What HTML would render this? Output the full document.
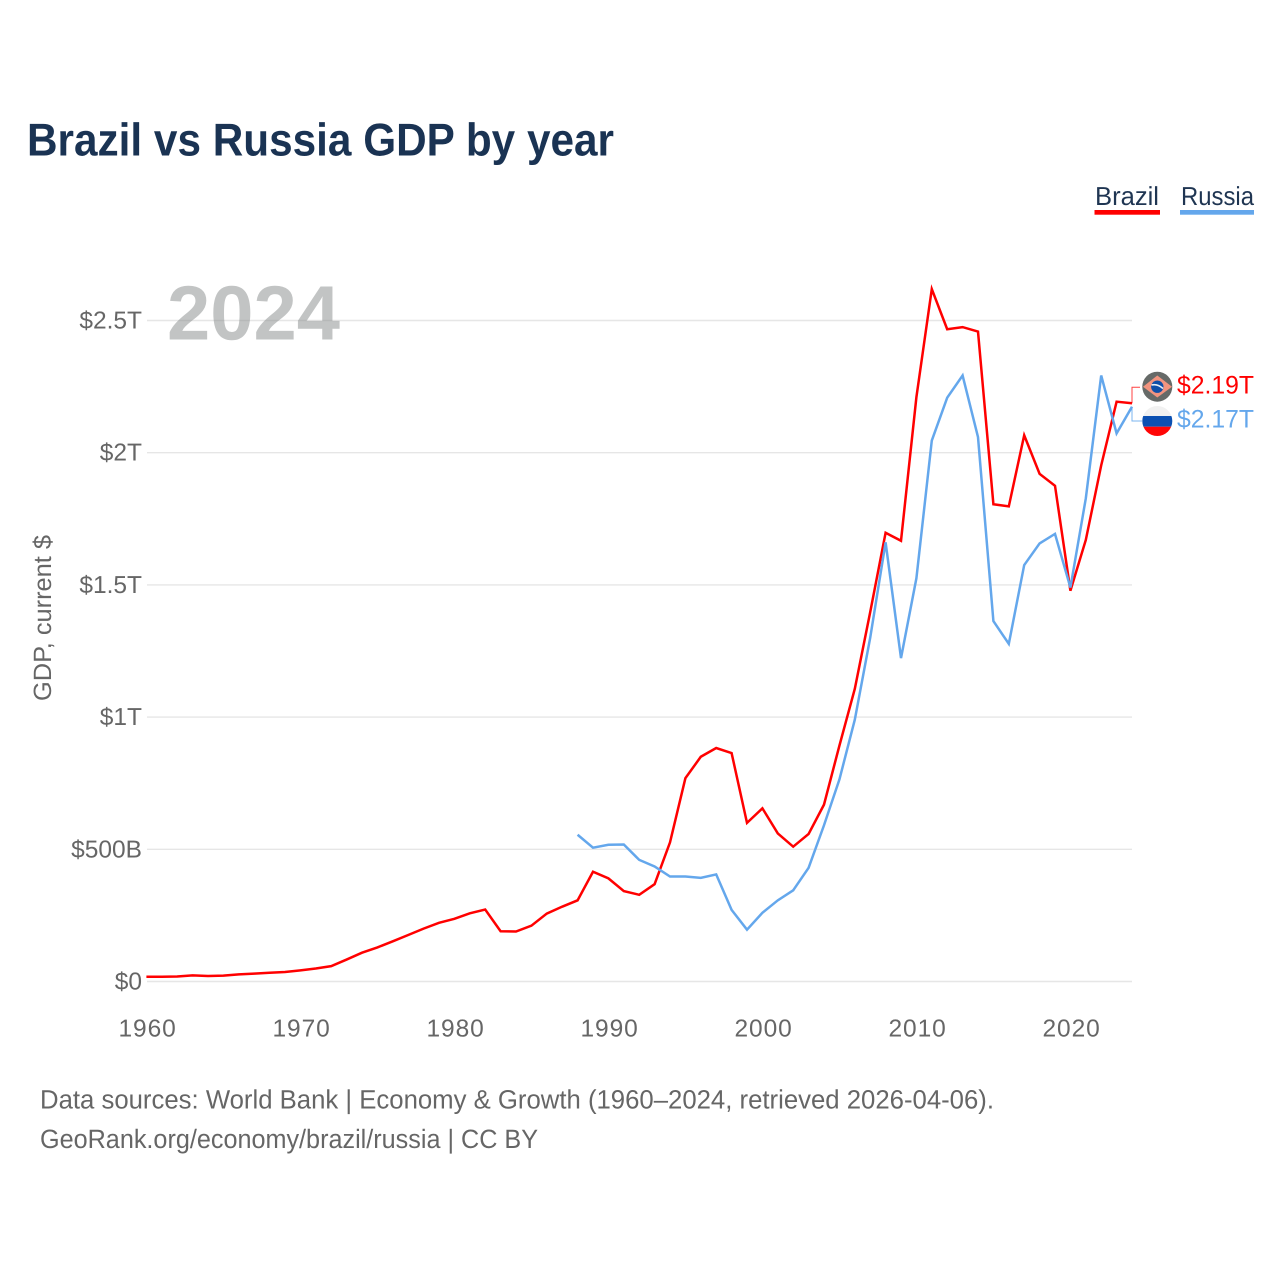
<!DOCTYPE html>
<html lang="en">
<head>
<meta charset="utf-8">
<title>Brazil vs Russia GDP by year</title>
<style>
html,body{margin:0;padding:0;background:#fff;width:1280px;height:1280px;overflow:hidden}
svg{display:block;font-family:"Liberation Sans",sans-serif;text-rendering:geometricPrecision}
</style>
</head>
<body>
<svg id="chart" width="1280" height="1280" viewBox="0 0 1280 1280" xmlns="http://www.w3.org/2000/svg">
  <defs>
    <clipPath id="russia-clip"><circle cx="1157.3" cy="421" r="15"/></clipPath>
    <clipPath id="brazil-clip"><circle cx="1157.3" cy="386.7" r="15"/></clipPath>
  </defs>
  <text x="27" y="155.5" font-size="46" font-weight="700" fill="#1a3353" textLength="587" lengthAdjust="spacingAndGlyphs">Brazil vs Russia GDP by year</text>

  <text x="1095" y="205" font-size="26" fill="#1f3552" textLength="64" lengthAdjust="spacingAndGlyphs">Brazil</text>
  <rect x="1094.5" y="210" width="65.5" height="4.7" fill="#ff0000"/>
  <text x="1181" y="205" font-size="26" fill="#1f3552" textLength="73" lengthAdjust="spacingAndGlyphs">Russia</text>
  <rect x="1180" y="210" width="74" height="4.7" fill="#64a7ec"/>

  <text transform="translate(51,701) rotate(-90)" font-size="25" fill="#666" textLength="166" lengthAdjust="spacingAndGlyphs">GDP, current $</text>

  <g id="grid"></g>
  <g id="y-ticks"></g>
  <g id="x-ticks"></g>

  <text x="167" y="339.5" font-size="77" font-weight="700" fill="#858a89" fill-opacity="0.5" textLength="173" lengthAdjust="spacingAndGlyphs">2024</text>

  <g id="series"></g>
  <g id="connectors"></g>

  <g clip-path="url(#brazil-clip)">
    <rect x="1142" y="371" width="31" height="31" fill="#666a68"/>
    <polygon points="1157.3,375.5 1172,386.7 1157.3,397.5 1143,386.7" fill="#f2947f"/>
    <circle cx="1157.3" cy="386.7" r="6.2" fill="#0f4fa8"/>
    <path d="M1151.5 385 Q1157.5 383.5 1163 388.5" stroke="#e8eef5" stroke-width="1.6" fill="none"/>
  </g>
  <g clip-path="url(#russia-clip)">
    <rect x="1142" y="405" width="31" height="11" fill="#f1f1f1"/>
    <rect x="1142" y="416" width="31" height="10.7" fill="#0b50b2"/>
    <rect x="1142" y="426.7" width="31" height="10" fill="#ff0606"/>
  </g>

  <text x="1177" y="393.5" font-size="25.5" fill="#ff0000" textLength="77" lengthAdjust="spacingAndGlyphs">$2.19T</text>
  <text x="1177" y="427.5" font-size="25.5" fill="#64a7ec" textLength="77" lengthAdjust="spacingAndGlyphs">$2.17T</text>

  <text x="40" y="1108.5" font-size="26.5" fill="#666" textLength="954" lengthAdjust="spacingAndGlyphs">Data sources: World Bank | Economy &amp; Growth (1960–2024, retrieved 2026-04-06).</text>
  <text x="40" y="1148" font-size="26.5" fill="#666" textLength="498" lengthAdjust="spacingAndGlyphs">GeoRank.org/economy/brazil/russia | CC BY</text>
</svg>
<script>
const years = [1960,1961,1962,1963,1964,1965,1966,1967,1968,1969,1970,1971,1972,1973,1974,1975,1976,1977,1978,1979,1980,1981,1982,1983,1984,1985,1986,1987,1988,1989,1990,1991,1992,1993,1994,1995,1996,1997,1998,1999,2000,2001,2002,2003,2004,2005,2006,2007,2008,2009,2010,2011,2012,2013,2014,2015,2016,2017,2018,2019,2020,2021,2022,2023,2024];
// GDP in billions of current US$
const brazilGdp = [18,18,19,23,21,22,27,30,33,36,42,49,58,83,109,129,152,176,200,222,237,258,272,190,189,211,257,283,307,415,390,342,328,368,526,769,850,883,864,600,655,560,510,558,669,892,1107,1397,1697,1667,2210,2619,2467,2475,2458,1805,1797,2066,1920,1875,1478,1670,1952,2193,2187];
const russiaGdp = [null,null,null,null,null,null,null,null,null,null,null,null,null,null,null,null,null,null,null,null,null,null,null,null,null,null,null,null,555,506,517,518,460,435,397,397,392,405,271,196,260,307,345,430,591,764,990,1300,1661,1223,1525,2046,2208,2292,2059,1363,1277,1575,1657,1693,1490,1827,2292,2073,2174];
const yTickValues = [0,500,1000,1500,2000,2500];
const yTickLabels = ["$0","$500B","$1T","$1.5T","$2T","$2.5T"];
const xTickValues = [1960,1970,1980,1990,2000,2010,2020];

const SVG_NS = "http://www.w3.org/2000/svg";
function xScale(year){ return 146.4 + (year - 1960) * (1132 - 146.4) / (2024 - 1960); }
function yScale(v){ return 981.5 - v * (981.5 - 320.5) / 2500; }

const gridGroup = document.getElementById("grid");
const yTickGroup = document.getElementById("y-ticks");
const xTickGroup = document.getElementById("x-ticks");
const seriesGroup = document.getElementById("series");
const connectorGroup = document.getElementById("connectors");

yTickValues.forEach(function(v, i){
  const line = document.createElementNS(SVG_NS, "line");
  
  
  line.setAttribute("x1", 147);
  line.setAttribute("x2", 1132);
  line.setAttribute("y1", yScale(v));
  line.setAttribute("y2", yScale(v));
  line.setAttribute("stroke", "#e6e6e6");
  line.setAttribute("stroke-width", "1.4");
  gridGroup.appendChild(line);

  const label = document.createElementNS(SVG_NS, "text");
  
  
  label.setAttribute("x", 142);
  label.setAttribute("y", yScale(v) + 8);
  label.setAttribute("text-anchor", "end");
  label.setAttribute("font-size", "24.5");
  label.setAttribute("fill", "#666");
  label.textContent = yTickLabels[i];
  yTickGroup.appendChild(label);
});

xTickValues.forEach(function(year){
  const label = document.createElementNS(SVG_NS, "text");
  
  
  label.setAttribute("x", xScale(year) + 1.2);
  label.setAttribute("y", 1036.5);
  label.setAttribute("text-anchor", "middle");
  label.setAttribute("font-size", "24.5");
  label.setAttribute("letter-spacing", "0.9");
  label.setAttribute("fill", "#666");
  label.textContent = String(year);
  xTickGroup.appendChild(label);
});

function buildPath(values){
  let d = "";
  values.forEach(function(v, i){
    if (v === null) return;
    d += (d === "" ? "M" : "L") + xScale(years[i]).toFixed(2) + " " + yScale(v).toFixed(2);
  });
  return d;
}

const brazilLine = document.createElementNS(SVG_NS, "path");


brazilLine.setAttribute("d", buildPath(brazilGdp));
brazilLine.setAttribute("fill", "none");
brazilLine.setAttribute("stroke", "#ff0000");
brazilLine.setAttribute("stroke-width", "2.5");
brazilLine.setAttribute("stroke-linejoin", "miter");
seriesGroup.appendChild(brazilLine);

const russiaLine = document.createElementNS(SVG_NS, "path");


russiaLine.setAttribute("d", buildPath(russiaGdp));
russiaLine.setAttribute("fill", "none");
russiaLine.setAttribute("stroke", "#64a7ec");
russiaLine.setAttribute("stroke-width", "2.5");
russiaLine.setAttribute("stroke-linejoin", "miter");
seriesGroup.appendChild(russiaLine);

const lastX = xScale(years[years.length - 1]);

const brazilConnector = document.createElementNS(SVG_NS, "path");


brazilConnector.setAttribute("d", "M" + lastX + " " + yScale(brazilGdp[brazilGdp.length - 1]) + "V387.3H1140");
brazilConnector.setAttribute("fill", "none");
brazilConnector.setAttribute("stroke", "#ff0000");
brazilConnector.setAttribute("stroke-opacity", "0.75");
brazilConnector.setAttribute("stroke-width", "1");
connectorGroup.appendChild(brazilConnector);

const russiaConnector = document.createElementNS(SVG_NS, "path");


russiaConnector.setAttribute("d", "M" + lastX + " " + yScale(russiaGdp[russiaGdp.length - 1]) + "V421H1142");
russiaConnector.setAttribute("fill", "none");
russiaConnector.setAttribute("stroke", "#64a7ec");
russiaConnector.setAttribute("stroke-opacity", "0.85");
russiaConnector.setAttribute("stroke-width", "1");
connectorGroup.appendChild(russiaConnector);
</script>
</body>
</html>
